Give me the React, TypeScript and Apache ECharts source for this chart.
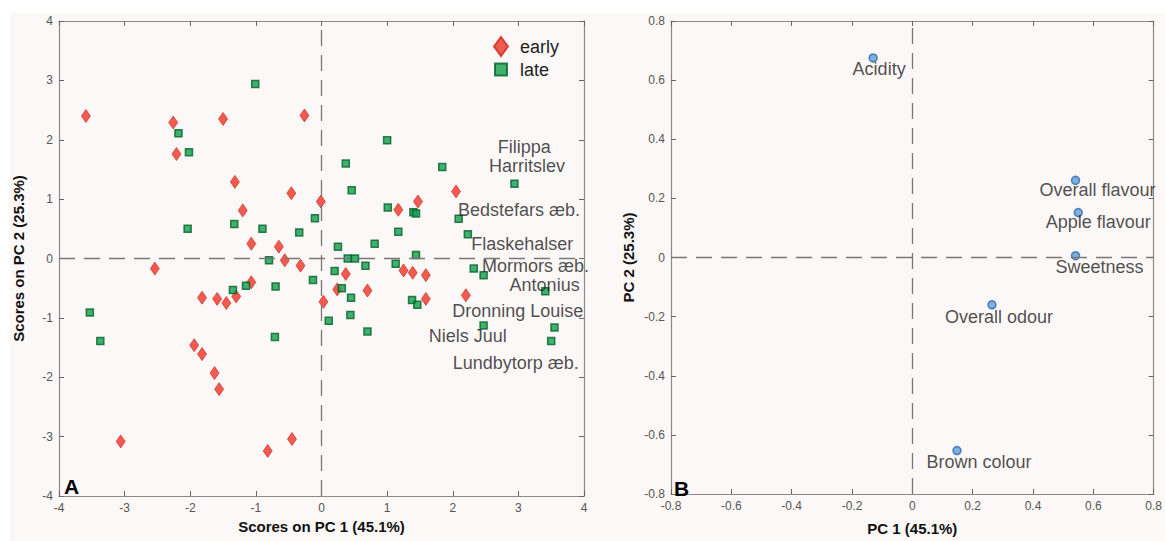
import React, { useEffect, useRef } from "react";
import * as echarts from "echarts";

// ---------- data ----------
const earlyPoints: number[][] = [
  [-3.59, 2.40], [-2.26, 2.29], [-1.50, 2.35], [-0.26, 2.41], [-2.21, 1.76],
  [-1.32, 1.29], [-0.46, 1.10], [-0.01, 0.96], [-1.20, 0.81], [-1.07, 0.25],
  [-0.65, 0.20], [-0.56, -0.03], [-0.32, -0.12], [-2.54, -0.17], [-1.07, -0.40],
  [-1.82, -0.66], [-1.59, -0.68], [-1.45, -0.75], [-1.30, -0.64], [0.03, -0.73],
  [-1.94, -1.46], [-1.82, -1.61], [-1.63, -1.93], [-1.56, -2.20], [-3.06, -3.08],
  [-0.82, -3.24], [-0.45, -3.04], [2.05, 1.13], [1.47, 0.96], [1.17, 0.82],
  [0.37, -0.26], [1.25, -0.20], [1.39, -0.24], [1.59, -0.28], [0.24, -0.52],
  [0.70, -0.54], [1.59, -0.68], [2.20, -0.62],
];

const latePoints: number[][] = [
  [-1.01, 2.94], [-2.18, 2.11], [-2.02, 1.79], [-0.10, 0.68], [-2.04, 0.50],
  [-1.33, 0.58], [-0.90, 0.50], [-0.34, 0.44], [-0.80, -0.03], [-0.13, -0.36],
  [-0.70, -0.47], [-1.15, -0.46], [-1.35, -0.53], [-3.53, -0.91], [-3.37, -1.39],
  [-0.71, -1.32], [1.00, 1.99], [0.37, 1.60], [1.84, 1.54], [2.94, 1.26],
  [0.46, 1.15], [1.01, 0.86], [1.40, 0.78], [1.44, 0.76], [2.09, 0.67],
  [1.17, 0.45], [2.23, 0.41], [0.25, 0.20], [0.81, 0.25], [0.40, 0.00],
  [0.51, 0.00], [1.44, 0.06], [0.67, -0.12], [1.13, -0.09], [0.20, -0.21],
  [2.32, -0.17], [2.47, -0.28], [0.31, -0.50], [0.45, -0.66], [1.38, -0.70],
  [1.46, -0.78], [3.41, -0.55], [0.11, -1.05], [0.44, -0.95], [0.70, -1.23],
  [2.47, -1.13], [3.55, -1.16], [3.50, -1.39],
];

const cultivarNames: string[] = [
  "Filippa", "Harritslev", "Bedstefars æb.", "Flaskehalser", "Mormors æb.",
  "Antonius", "Dronning Louise", "Niels Juul", "Lundbytorp æb.",
];
const cultivarAnchors: number[][] = [
  [3.09, 1.88], [3.13, 1.55], [3.01, 0.82], [3.06, 0.25], [3.26, -0.12],
  [3.40, -0.45], [2.99, -0.89], [2.23, -1.31], [2.96, -1.76],
];

const attributeNames: string[] = [
  "Acidity", "Overall flavour", "Apple flavour", "Sweetness", "Overall odour", "Brown colour",
];
const attributeLoadings: number[][] = [
  [-0.130, 0.675], [0.541, 0.261], [0.550, 0.152], [0.541, 0.006], [0.264, -0.160], [0.148, -0.653],
];

const scoreTicks = { min: -4, max: 4, interval: 1 };
const loadingTicks = { min: -0.8, max: 0.8, interval: 0.2 };

// label offsets (style only)
const attributeLabelOffsets: number[][] = [
  [6, 11], [22, 10], [20, 9], [24, 11], [7, 12], [22, 11],
];

const FONT = "'Liberation Sans', Arial, Helvetica, sans-serif";
const AXIS_COLOR = "#8a8a8a";

function makeAxis(kind: "x" | "y", grid: number, pos: string, ticks: any, labels: boolean, name?: string, nameGap?: number) {
  return {
    type: "value",
    gridIndex: grid,
    position: pos,
    min: ticks.min,
    max: ticks.max,
    interval: ticks.interval,
    axisLine: { show: true, onZero: false, lineStyle: { color: AXIS_COLOR, width: 1.2 } },
    axisTick: { show: true, inside: true, length: 5, lineStyle: { color: "#666", width: 1 } },
    axisLabel: {
      show: labels,
      color: "#555",
      fontSize: 12,
      fontFamily: FONT,
      margin: 6,
      formatter: (v: number) => {
        const r = Math.round(v * 10) / 10;
        return String(r);
      },
    },
    splitLine: { show: false },
    name: name || "",
    nameLocation: "middle",
    nameGap: nameGap || 0,
    nameTextStyle: { fontFamily: FONT, fontWeight: "bold", fontSize: 15, color: "#111" },
  };
}

const dashStyle = { type: [16, 9], color: "#777", width: 1.3 };

export default function App() {
  const ref = useRef<HTMLDivElement>(null);
  useEffect(() => {
    if (!ref.current) return;
    const chart = echarts.init(ref.current, undefined, { renderer: "svg" });
    const option: any = {
      animation: false,
      backgroundColor: "transparent",
      textStyle: { fontFamily: FONT },
      grid: [
        { left: 59, top: 21, width: 525, height: 475 },
        { left: 671, top: 21, width: 486, height: 477 },
      ],
      xAxis: [
        makeAxis("x", 0, "bottom", scoreTicks, true, "Scores on PC 1 (45.1%)", 21),
        makeAxis("x", 0, "top", scoreTicks, false),
        makeAxis("x", 1, "bottom", loadingTicks, true, "PC 1 (45.1%)", 27),
        makeAxis("x", 1, "top", loadingTicks, false),
      ],
      yAxis: [
        makeAxis("y", 0, "left", scoreTicks, true, "Scores on PC 2 (25.3%)", 33),
        makeAxis("y", 0, "right", scoreTicks, false),
        makeAxis("y", 1, "left", loadingTicks, true, "PC 2 (25.3%)", 35),
        makeAxis("y", 1, "right", loadingTicks, false),
      ],
      legend: {
        orient: "vertical",
        left: 493,
        top: 36,
        padding: 0,
        itemGap: 2,
        itemWidth: 21,
        itemHeight: 19,
        textStyle: { fontSize: 18, color: "#222", fontFamily: FONT },
        data: [
          { name: "early", icon: "path://M0,0M21,19M7,0L14,9.5L7,19L0,9.5Z" },
          { name: "late", icon: "path://M0,0M21,19M1,3.5L13,3.5L13,15.5L1,15.5Z" },
        ],
      },
      series: [
        {
          type: "scatter",
          name: "zeroA",
          xAxisIndex: 0,
          yAxisIndex: 0,
          data: [],
          z: 1,
          markLine: {
            silent: true,
            symbol: "none",
            label: { show: false },
            lineStyle: dashStyle,
            data: [{ xAxis: 0 }, { yAxis: 0 }],
          },
        },
        {
          type: "scatter",
          name: "zeroB",
          xAxisIndex: 2,
          yAxisIndex: 2,
          data: [],
          z: 1,
          markLine: {
            silent: true,
            symbol: "none",
            label: { show: false },
            lineStyle: dashStyle,
            data: [{ xAxis: 0 }, { yAxis: 0 }],
          },
        },
        {
          type: "scatter",
          name: "early",
          xAxisIndex: 0,
          yAxisIndex: 0,
          symbol: "diamond",
          symbolSize: [9, 13],
          itemStyle: { color: "#ec3326", borderColor: "#d0241a", borderWidth: 0.8 },
          data: earlyPoints,
          z: 3,
        },
        {
          type: "scatter",
          name: "late",
          xAxisIndex: 0,
          yAxisIndex: 0,
          symbol: "rect",
          symbolSize: 7,
          itemStyle: { color: "#11a04a", borderColor: "#00602a", borderWidth: 1.5 },
          data: latePoints,
          z: 3,
        },
        {
          type: "scatter",
          name: "cultivars",
          xAxisIndex: 0,
          yAxisIndex: 0,
          symbolSize: 1,
          itemStyle: { color: "transparent" },
          silent: true,
          data: cultivarNames.map((n, i) => ({ name: n, value: cultivarAnchors[i] })),
          label: {
            show: true,
            position: "inside",
            formatter: "{b}",
            fontSize: 18,
            lineHeight: 15,
            color: "#222",
            fontFamily: FONT,
          },
          z: 4,
        },
        {
          type: "scatter",
          name: "attributes",
          xAxisIndex: 2,
          yAxisIndex: 2,
          symbol: "circle",
          symbolSize: 8,
          itemStyle: { color: "#5d9cd8", borderColor: "#2e68ad", borderWidth: 1.5 },
          data: attributeNames.map((n, i) => ({
            name: n,
            value: attributeLoadings[i],
            label: { offset: attributeLabelOffsets[i] },
          })),
          label: {
            show: true,
            position: "inside",
            formatter: "{b}",
            fontSize: 18,
            color: "#222",
            fontFamily: FONT,
          },
          z: 3,
        },
      ],
      graphic: [
        {
          type: "text",
          left: 64,
          top: 476,
          style: { text: "A", fontSize: 21, fontWeight: "bold", fill: "#000", fontFamily: FONT },
          z: 10,
        },
        {
          type: "text",
          left: 674,
          top: 478,
          style: { text: "B", fontSize: 21, fontWeight: "bold", fill: "#000", fontFamily: FONT },
          z: 10,
        },
      ],
    };
    chart.setOption(option);
    return () => chart.dispose();
  }, []);

  return (
    <div style={{ position: "fixed", left: 0, top: 0, width: 1165, height: 541, background: "#ffffff" }}>
      <div style={{ position: "absolute", left: 10, top: 13, width: 1155, height: 528, background: "#fcf8f7" }} />
      <div ref={ref} style={{ position: "absolute", left: 0, top: 0, width: 1165, height: 541 }} />
    </div>
  );
}
